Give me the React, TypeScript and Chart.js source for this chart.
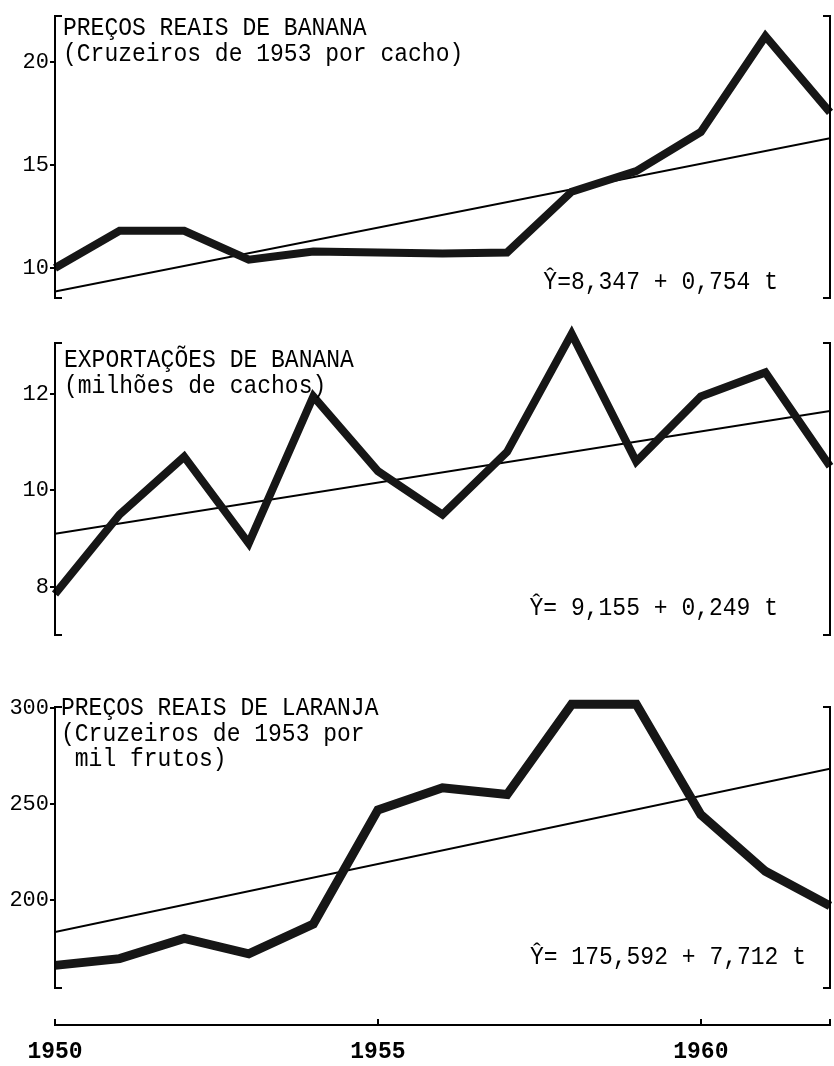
import React, { useEffect, useRef } from "react";
import { Chart, registerables } from "chart.js";

Chart.register(...registerables);

// ---------- data ----------
const years = [1950, 1951, 1952, 1953, 1954, 1955, 1956, 1957, 1958, 1959, 1960, 1961, 1962];
const trendYears = [1950, 1962];
const xTickYears = [1950, 1955, 1960];

const bananaPrice = [10.0, 11.8, 11.8, 10.4, 10.8, 10.75, 10.7, 10.75, 13.7, 14.7, 16.6, 21.25, 17.55];
const bananaPriceTrend = [8.85, 16.3];
const bananaPriceTicks = [10, 15, 20];
const bananaPriceTitle = ["PREÇOS REAIS DE BANANA", "(Cruzeiros de 1953 por cacho)"];
const bananaPriceEq = "Ŷ=8,347 + 0,754 t";

const bananaExports = [7.85, 9.5, 10.7, 8.9, 11.95, 10.4, 9.5, 10.8, 13.25, 10.6, 11.95, 12.45, 10.5];
const bananaExportsTrend = [9.1, 11.65];
const bananaExportsTicks = [8, 10, 12];
const bananaExportsTitle = ["EXPORTAÇÕES DE BANANA", "(milhões de cachos)"];
const bananaExportsEq = "Ŷ= 9,155 + 0,249 t";

const orangePrice = [166, 169.5, 180, 172, 187.5, 247, 258.5, 255, 302, 302, 244.5, 215, 197];
const orangePriceTrend = [183.3, 268.5];
const orangePriceTicks = [200, 250, 300];
const orangePriceTitle = ["PREÇOS REAIS DE LARANJA", "(Cruzeiros de 1953 por", " mil frutos)"];
const orangePriceEq = "Ŷ= 175,592 + 7,712 t";

// ---------- layout / style ----------
const FONT = '"Liberation Mono", "DejaVu Sans Mono", monospace';
const W = 834;
const AREA_LEFT = 55;
const AREA_RIGHT = 830;
const PAD = 20;
const TEXT_STRETCH = 1.15;

type PanelSpec = {
  top: number;
  bottom: number;
  min: number;
  max: number;
  values: number[];
  trend: number[];
  ticks: number[];
  title: string[];
  titleX: number;
  titleY: number[];
  eq: string;
  eqRight: number;
  eqY: number;
  lineWidth: number;
};

const panels: PanelSpec[] = [
  {
    top: 16, bottom: 298, min: 8.54, max: 22.23,
    values: bananaPrice, trend: bananaPriceTrend, ticks: bananaPriceTicks,
    title: bananaPriceTitle, titleX: 63, titleY: [28, 54],
    eq: bananaPriceEq, eqRight: 778, eqY: 282, lineWidth: 8,
  },
  {
    top: 343, bottom: 635, min: 7.0, max: 13.06,
    values: bananaExports, trend: bananaExportsTrend, ticks: bananaExportsTicks,
    title: bananaExportsTitle, titleX: 64, titleY: [360, 386],
    eq: bananaExportsEq, eqRight: 778, eqY: 608, lineWidth: 8,
  },
  {
    top: 707, bottom: 988, min: 154.2, max: 300.6,
    values: orangePrice, trend: orangePriceTrend, ticks: orangePriceTicks,
    title: orangePriceTitle, titleX: 61, titleY: [708, 734, 759],
    eq: orangePriceEq, eqRight: 806, eqY: 957, lineWidth: 9,
  },
];

function Panel({ spec }: { spec: PanelSpec }) {
  const ref = useRef<HTMLCanvasElement>(null);
  const canvasTop = spec.top - PAD;
  const canvasH = spec.bottom - spec.top + 2 * PAD;

  useEffect(() => {
    const bracketPlugin = {
      id: "brackets",
      afterDraw(chart: any) {
        const { ctx, chartArea: a } = chart;
        ctx.save();
        ctx.strokeStyle = "#000";
        ctx.lineWidth = 2;
        ctx.lineCap = "butt";
        ctx.beginPath();
        ctx.moveTo(a.left + 7, a.top);
        ctx.lineTo(a.left, a.top);
        ctx.lineTo(a.left, a.bottom);
        ctx.lineTo(a.left + 7, a.bottom);
        ctx.moveTo(a.right - 7, a.top);
        ctx.lineTo(a.right, a.top);
        ctx.lineTo(a.right, a.bottom);
        ctx.lineTo(a.right - 7, a.bottom);
        ctx.stroke();

        ctx.fillStyle = "#000";
        ctx.font = `23px ${FONT}`;
        ctx.textBaseline = "middle";
        const drawText = (t: string, x: number, y: number, align: string) => {
          ctx.save();
          ctx.translate(x, y - canvasTop);
          ctx.scale(1, TEXT_STRETCH);
          ctx.textAlign = align;
          ctx.fillText(t, 0, 0);
          ctx.restore();
        };
        spec.title.forEach((t, i) => drawText(t, spec.titleX, spec.titleY[i], "left"));
        drawText(spec.eq, spec.eqRight, spec.eqY, "right");
        ctx.restore();
      },
    };

    const chart = new Chart(ref.current!, {
      type: "line",
      data: {
        datasets: [
          {
            data: years.map((x, i) => ({ x, y: spec.values[i] })),
            borderColor: "#161616",
            borderWidth: spec.lineWidth,
            pointRadius: 0,
            tension: 0,
            borderJoinStyle: "miter",
            fill: false,
            clip: false,
          },
          {
            data: trendYears.map((x, i) => ({ x, y: spec.trend[i] })),
            borderColor: "#000",
            borderWidth: 2,
            pointRadius: 0,
            tension: 0,
            fill: false,
          },
        ],
      },
      options: {
        animation: false,
        responsive: false,
        maintainAspectRatio: false,
        events: [],
        layout: { padding: { top: PAD, bottom: PAD, left: 0, right: W - AREA_RIGHT } },
        plugins: {
          legend: { display: false },
          tooltip: { enabled: false },
          title: { display: false },
        },
        scales: {
          x: { type: "linear", min: 1950, max: 1962, display: false },
          y: {
            type: "linear",
            min: spec.min,
            max: spec.max,
            afterBuildTicks: (s: any) => {
              s.ticks = spec.ticks.map((v) => ({ value: v }));
            },
            afterFit: (s: any) => {
              s.width = AREA_LEFT;
            },
            border: { display: false },
            grid: {
              drawOnChartArea: false,
              drawTicks: true,
              tickLength: 5,
              color: "#000",
              lineWidth: 2,
            },
            ticks: {
              color: "#000",
              font: { family: FONT, size: 22 },
              padding: 1,
              autoSkip: false,
              callback: (v: any) => String(v),
            },
          },
        },
      } as any,
      plugins: [bracketPlugin],
    });
    return () => chart.destroy();
  }, []);

  return (
    <canvas
      ref={ref}
      width={W}
      height={canvasH}
      style={{ position: "absolute", left: 0, top: canvasTop, width: W, height: canvasH }}
    />
  );
}

function XAxis() {
  const ref = useRef<HTMLCanvasElement>(null);
  const top = 1000;
  const h = 66;
  useEffect(() => {
    const tickPlugin = {
      id: "xticks",
      afterDraw(chart: any) {
        const { ctx } = chart;
        const s = chart.scales.x;
        const y = chart.chartArea.bottom;
        ctx.save();
        ctx.strokeStyle = "#000";
        ctx.lineWidth = 2;
        ctx.beginPath();
        [...xTickYears, 1962].forEach((v) => {
          const x = Math.round(s.getPixelForValue(v));
          ctx.moveTo(x, y);
          ctx.lineTo(x, y - 6);
        });
        ctx.stroke();
        ctx.restore();
      },
    };
    const chart = new Chart(ref.current!, {
      type: "line",
      data: { datasets: [] },
      options: {
        animation: false,
        responsive: false,
        maintainAspectRatio: false,
        events: [],
        layout: { padding: { top: 0, bottom: 0, left: AREA_LEFT, right: W - AREA_RIGHT } },
        plugins: { legend: { display: false }, tooltip: { enabled: false } },
        scales: {
          y: { display: false, min: 0, max: 1 },
          x: {
            type: "linear",
            min: 1950,
            max: 1962,
            afterBuildTicks: (s: any) => {
              s.ticks = xTickYears.map((v) => ({ value: v }));
            },
            afterFit: (s: any) => {
              s.height = 41;
            },
            border: { display: true, color: "#000", width: 2 },
            grid: { display: false },
            ticks: {
              color: "#000",
              font: { family: FONT, size: 23, weight: "bold" },
              padding: 5,
              maxRotation: 0,
              autoSkip: false,
              callback: (v: any) => String(v),
            },
          },
        },
      } as any,
      plugins: [tickPlugin],
    });
    return () => chart.destroy();
  }, []);
  return (
    <canvas
      ref={ref}
      width={W}
      height={h}
      style={{ position: "absolute", left: 0, top, width: W, height: h }}
    />
  );
}

export default function App() {
  return (
    <div
      style={{
        position: "absolute",
        left: 0,
        top: 0,
        width: W,
        height: 1066,
        background: "#fff",
        overflow: "hidden",
      }}
    >
      {panels.map((p, i) => (
        <Panel key={i} spec={p} />
      ))}
      <XAxis />
    </div>
  );
}
